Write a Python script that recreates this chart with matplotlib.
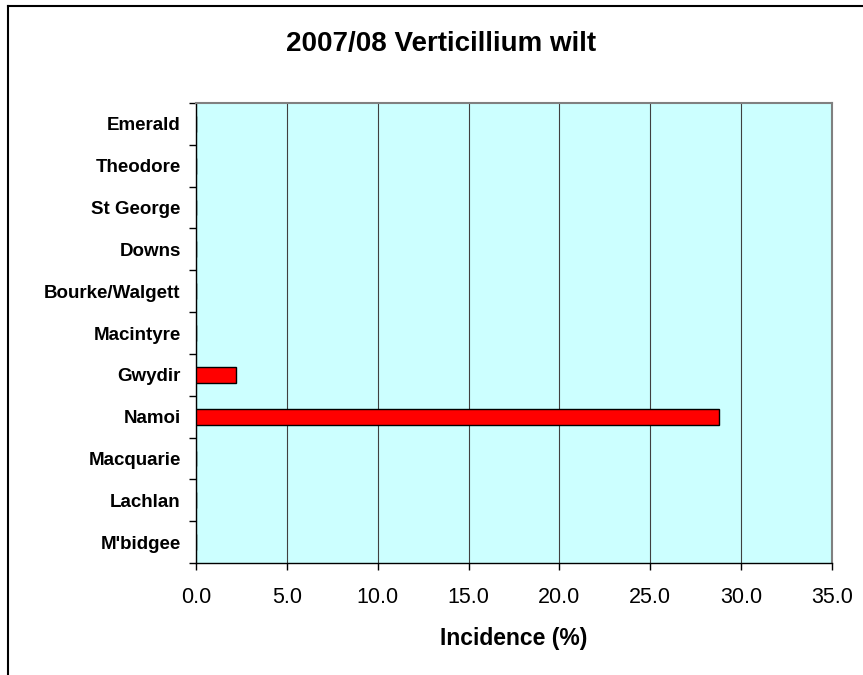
import numpy as np
import matplotlib.pyplot as plt
from matplotlib.lines import Line2D

plt.rcParams['font.family'] = 'Liberation Sans'

# Data
regions = ['Emerald', 'Theodore', 'St George', 'Downs', 'Bourke/Walgett',
           'Macintyre', 'Gwydir', 'Namoi', 'Macquarie', 'Lachlan', "M'bidgee"]
incidence = [0, 0, 0, 0, 0, 0, 2.2, 28.8, 0, 0, 0]
xticks = [0, 5, 10, 15, 20, 25, 30, 35]

fig = plt.figure(figsize=(8.63, 6.75), dpi=100)
ax = fig.add_axes([196/863, 1 - 563/675, (832 - 196)/863, (563 - 103)/675])
ax.set_facecolor('#CCFFFF')

y = np.arange(len(regions))
ax.barh(y, incidence, height=0.38, color='#FF0000', edgecolor='black',
        linewidth=1, zorder=3)

ax.set_xlim(0, 35)
ax.set_ylim(len(regions) - 0.5, -0.5)
ax.set_xticks(xticks)
ax.set_xticklabels([f'{v:.1f}' for v in xticks], fontsize=15.5)
ax.tick_params(axis='x', direction='out', length=5, width=1, pad=12)

# category labels between boundary ticks
ax.set_yticks(np.arange(len(regions) + 1) - 0.5)
ax.set_yticklabels([])
ax.set_yticks(y, minor=True)
ax.set_yticklabels(regions, minor=True, fontsize=13.5, fontweight='bold')
ax.tick_params(axis='y', which='major', direction='out', length=5, width=1)
ax.tick_params(axis='y', which='minor', length=0, pad=11)

ax.grid(axis='x', color='#404040', linewidth=0.8, zorder=1)
ax.set_axisbelow(True)
for s in ['top', 'right']:
    ax.spines[s].set_color('#808080')
    ax.spines[s].set_linewidth(1.5)
for s in ['left', 'bottom']:
    ax.spines[s].set_color('black')
    ax.spines[s].set_linewidth(1)

ax.set_xlabel('Incidence (%)', fontsize=16.5, fontweight='bold', labelpad=14)
fig.text(441/863, 1 - 44/675, '2007/08 Verticillium wilt', fontsize=20,
         fontweight='bold', ha='center', va='center')

# outer chart border (left and top visible)
fig.add_artist(Line2D([8/863, 8/863], [0, 1 - 6/675], color='black', linewidth=1.5))
fig.add_artist(Line2D([8/863, 1], [1 - 6/675, 1 - 6/675], color='black', linewidth=1.5))

fig.savefig('out.png', dpi=100)
